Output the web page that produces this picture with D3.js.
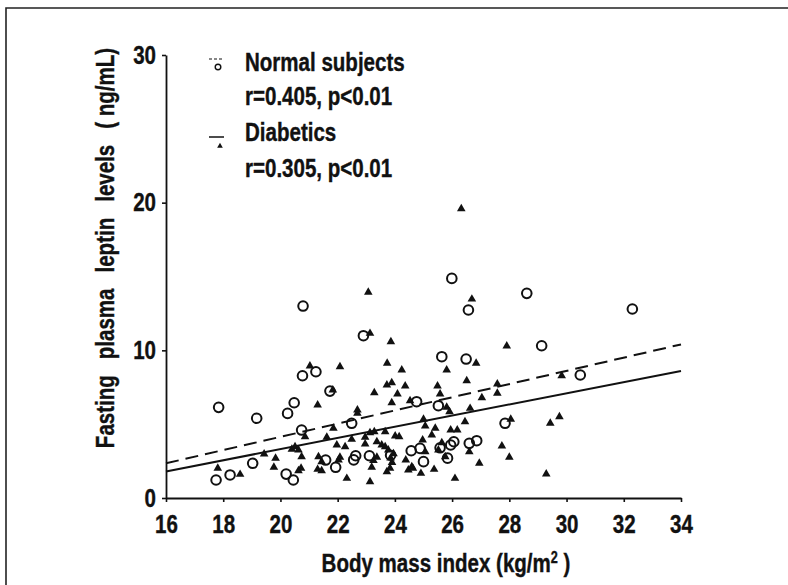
<!DOCTYPE html>
<html lang="en">
<head>
<meta charset="utf-8">
<title>Leptin vs BMI</title>
<script src="https://cdnjs.cloudflare.com/ajax/libs/d3/7.8.5/d3.min.js"></script>
<style>
  body { margin: 0; background: #fff; }
  text { font-family: "Liberation Sans", Arial, sans-serif; font-weight: bold; fill: #111; stroke: #111; stroke-width: 0.4px; }
</style>
</head>
<body>
<svg id="chart" width="788" height="585"></svg>
<script>
// normal subjects (open circles): [BMI, leptin]
var normalPts = [
  [17.75,1.22],[17.84,6.14],[18.24,1.56],[19.03,2.35],[19.17,5.40],[20.2,1.62],[20.45,1.22],
  [20.25,5.73],[20.48,6.45],[20.77,8.28],[20.79,13.0],[20.74,4.60],[21.24,8.55],[21.73,7.24],
  [21.58,2.57],[21.93,2.08],[22.49,5.06],[22.56,2.58],[22.63,2.86],[22.9,10.99],[23.11,2.86],
  [23.85,2.9],[24.57,3.2],[24.88,3.36],[25.0,2.46],[24.76,6.52],[25.52,6.25],[25.64,9.57],
  [25.84,2.70],[25.58,3.4],[25.99,14.87],[25.95,3.59],[26.06,3.81],[26.49,9.41],[26.57,12.73],
  [26.6,3.70],[26.86,3.88],[27.85,5.06],[28.61,13.86],[29.13,10.31],[30.48,8.33],[32.30,12.80]
];
// diabetics (filled triangles)
var diabeticPts = [
  [17.81,2.01],[18.59,1.6],[19.43,2.98],[19.83,2.69],[19.77,2.08],[20.4,3.3],[20.51,3.47],
  [20.63,3.25],[20.74,2.8],[20.72,2.01],[20.63,1.85],[20.86,4.15],[21.03,8.94],[21.3,6.30],
  [21.33,2.8],[21.44,2.46],[21.3,1.94],[21.44,1.85],[21.62,4.11],[21.85,4.72],[21.83,7.31],
  [21.97,3.59],[22.03,2.57],[22.08,2.76],[22.08,8.89],[22.26,3.47],[22.32,1.33],[22.49,3.97],
  [22.69,5.96],[22.69,5.73],[22.96,4.11],[22.96,3.66],[23.07,13.93],[23.13,11.15],[23.13,4.42],
  [23.13,1.1],[23.19,2.08],[23.25,2.53],[23.28,7.13],[23.28,4.49],[23.37,3.81],[23.37,2.76],
  [23.54,3.59],[23.66,4.49],[23.66,3.47],[23.72,7.65],[23.73,9.12],[23.72,1.78],[23.77,3.25],
  [23.83,2.01],[23.86,10.58],[23.89,7.81],[23.89,6.45],[23.85,2.7],[23.9,2.4],[23.95,3.0],
  [24.01,4.20],[24.15,4.15],[24.09,7.04],[24.24,8.67],[24.36,7.58],[24.38,2.57],[24.47,1.9],
  [24.59,2.12],[24.53,6.59],[24.63,2.01],[24.91,1.67],[24.97,3.93],[25.0,5.33],[25.06,4.87],
  [25.06,3.13],[25.29,4.27],[25.37,1.94],[25.41,4.72],[25.49,7.58],[25.58,7.04],[25.52,3.25],
  [25.64,3.74],[25.76,2.80],[25.81,8.67],[25.81,6.14],[25.91,5.84],[25.95,4.60],[26.18,4.60],
  [26.10,1.33],[26.32,19.59],[26.45,5.17],[26.51,7.94],[26.6,3.13],[26.63,6.07],[26.69,13.47],
  [26.84,9.12],[26.95,2.35],[27.04,6.79],[27.58,7.72],[27.58,7.09],[27.74,3.52],[27.91,10.29],
  [28.0,2.76],[28.05,5.33],[29.29,1.62],[29.43,5.06],[29.75,5.50],[29.83,8.28]
];
// regression lines, value at BMI 16 and 34
var fitX = [16, 34];
var normalFit = [2.35, 10.4];
var diabeticFit = [1.8, 8.6];
var xTicks = [16, 18, 20, 22, 24, 26, 28, 30, 32, 34];
var yTicks = [0, 10, 20, 30];
var legendLabels = ["Normal subjects", "r=0.405, p<0.01", "Diabetics", "r=0.305, p<0.01"];

var svg = d3.select("#chart");
var squeeze = 0.79;   // the figure uses a condensed bold face

// outer frame of the scanned figure
svg.append("path").attr("d", "M6,585V8H788").attr("fill", "none").attr("stroke", "#222").attr("stroke-width", 1.6);

var x = d3.scaleLinear().domain([16, 34]).range([166, 681]);
var y = d3.scaleLinear().domain([0, 30]).range([498, 55]);

// axes
svg.append("g").attr("transform", "translate(0,498)")
  .call(d3.axisBottom(x).tickValues(xTicks).tickSize(4).tickSizeOuter(0).tickPadding(13));
svg.append("g").attr("class", "yax").attr("transform", "translate(166,0)")
  .call(d3.axisLeft(y).tickValues(yTicks).tickSize(4).tickSizeOuter(0).tickPadding(6));
svg.selectAll(".domain").attr("stroke", "#111").attr("stroke-width", 1.8);
svg.selectAll(".tick line").attr("stroke", "#111").attr("stroke-width", 1.6);
svg.selectAll(".tick text").attr("font-size", "26px")
  .attr("font-family", "Liberation Sans, Arial, sans-serif").attr("font-weight", "bold").attr("fill", "#111")
  .attr("transform", "scale(" + squeeze + ",1)");
svg.selectAll(".yax .tick text").attr("x", -10 / squeeze);

// axis titles
svg.append("text").attr("transform", "translate(446,572) scale(" + squeeze + ",1)").attr("text-anchor", "middle")
  .attr("font-size", "26px")
  .html('Body mass index (kg/m<tspan dy="-9" font-size="16px">2</tspan><tspan dy="9"> )</tspan>');
svg.append("text").attr("transform", "translate(114,248) rotate(-90) scale(" + squeeze + ",1)").attr("text-anchor", "middle")
  .attr("font-size", "26px").attr("word-spacing", "13px")
  .html('Fasting plasma leptin levels <tspan word-spacing="0px">( ng/mL)</tspan>');

// regression lines
var line = d3.line().x(function(d){ return x(d[0]); }).y(function(d){ return y(d[1]); });
svg.append("path").datum(d3.zip(fitX, normalFit)).attr("d", line)
  .attr("fill", "none").attr("stroke", "#111").attr("stroke-width", 2).attr("stroke-dasharray", "13,7");
svg.append("path").datum(d3.zip(fitX, diabeticFit)).attr("d", line)
  .attr("fill", "none").attr("stroke", "#111").attr("stroke-width", 2);

// points
svg.append("g").selectAll("path").data(diabeticPts).enter().append("path")
  .attr("d", d3.symbol(d3.symbolTriangle).size(32))
  .attr("transform", function(d){ return "translate(" + x(d[0]) + "," + y(d[1]) + ")"; })
  .attr("fill", "#111");
svg.append("g").selectAll("circle").data(normalPts).enter().append("circle")
  .attr("cx", function(d){ return x(d[0]); })
  .attr("cy", function(d){ return y(d[1]); })
  .attr("r", 4.8)
  .attr("fill", "none").attr("stroke", "#111").attr("stroke-width", 2);

// legend
var lg = svg.append("g");
lg.append("line").attr("x1", 209).attr("x2", 224).attr("y1", 59).attr("y2", 59)
  .attr("stroke", "#111").attr("stroke-width", 1.2).attr("stroke-dasharray", "3,2");
lg.append("circle").attr("cx", 218).attr("cy", 67).attr("r", 2.8).attr("fill", "none").attr("stroke", "#111").attr("stroke-width", 1.4);
lg.append("line").attr("x1", 209).attr("x2", 224).attr("y1", 137).attr("y2", 137)
  .attr("stroke", "#111").attr("stroke-width", 1.5);
lg.append("path").attr("d", d3.symbol(d3.symbolTriangle).size(14)).attr("transform", "translate(220,146)").attr("fill", "#111");
lg.selectAll("text").data(legendLabels).enter().append("text")
  .attr("transform", function(d, i){ return "translate(245," + [71, 105, 141, 177][i] + ") scale(" + squeeze + ",1)"; })
  .attr("font-size", "26px")
  .text(function(d){ return d; });
</script>
</body>
</html>
